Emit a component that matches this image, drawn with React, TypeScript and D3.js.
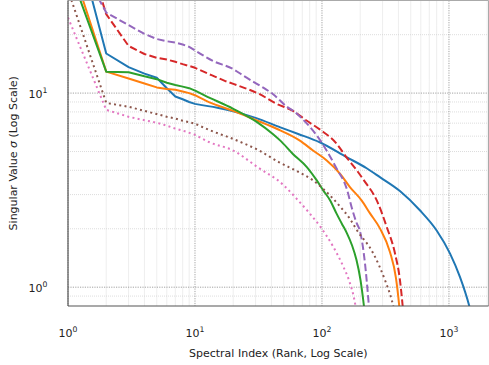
import * as d3 from 'd3';

// singular value spectra, [rank, sigma]
const blueSpectrum: [number, number][] = [
  [1, 90], [2, 16], [3, 13.6], [4, 12.6], [5, 12], [6, 10.6], [7, 9.6], [8, 9.3], [9, 9.0], [10, 8.8],
  [15, 8.4], [20, 8.05], [30, 7.45], [47, 6.66], [65, 6.16], [96, 5.58], [156, 4.68], [225, 4.1],
  [286, 3.69], [411, 3.13], [590, 2.49], [800, 1.96], [1020, 1.49], [1220, 1.13], [1445, 0.8], [1520, 0.7],
];
const orangeSpectrum: [number, number][] = [
  [1, 52], [2, 12.9], [3, 11.9], [4, 11.2], [5, 10.7], [6, 10.5], [7, 10.4], [8, 10.2], [9, 10.0], [10, 9.75],
  [13, 8.95], [20, 8.1], [30, 7.27], [44, 6.55], [67, 5.69], [85, 5.06], [109, 4.5], [139, 3.84],
  [166, 3.28], [205, 2.8], [239, 2.4], [286, 2.01], [343, 1.52], [382, 1.12], [406, 0.8], [414, 0.7],
];
const greenSpectrum: [number, number][] = [
  [1, 45], [2, 12.9], [3, 12.8], [4, 12.2], [5, 11.8], [6, 11.3], [7, 11.0], [8, 10.8], [9, 10.6], [10, 10.3],
  [12, 9.7], [20, 8.3], [31, 7.07], [41, 6.16], [47, 5.69], [59, 4.86], [76, 4.16], [91, 3.55], [102, 3.16],
  [116, 2.8], [130, 2.4], [143, 2.13], [157, 1.9], [172, 1.65], [187, 1.38], [201, 1.09], [214, 0.8], [220, 0.68],
];
const redSpectrum: [number, number][] = [
  [1, 110], [2, 25.5], [3, 17.5], [4, 15.9], [5, 15.2], [6, 14.9], [7, 14.5], [8, 14.1], [9, 13.8], [10, 13.5],
  [13, 12.5], [17, 11.6], [23, 10.8], [32, 9.9], [44, 8.8], [59, 8.1], [76, 7.2], [96, 6.5], [130, 5.5],
  [156, 4.67], [188, 4.0], [214, 3.55], [270, 2.8], [323, 2.05], [376, 1.49], [411, 1.09], [432, 0.8], [440, 0.7],
];
const purpleSpectrum: [number, number][] = [
  [1, 60], [2, 26], [3, 22.4], [4, 20.2], [5, 19.0], [6, 18.5], [7, 18.2], [8, 17.8], [9, 17.3], [10, 16.6],
  [14, 14.6], [20, 13.3], [24, 12.3], [35, 10.6], [41, 9.9], [53, 8.5], [61, 8.0], [71, 7.3], [91, 6.05],
  [109, 5.05], [130, 4.1], [158, 3.16], [171, 2.59], [188, 2.13], [199, 1.95], [218, 1.33], [232, 0.86], [236, 0.75],
];
const brownSpectrum: [number, number][] = [
  [1, 34], [2, 8.9], [3, 8.5], [4, 8.1], [5, 7.8], [6, 7.55], [7, 7.4], [8, 7.2], [10, 6.96],
  [13, 6.45], [20, 5.8], [32, 5.06], [46, 4.4], [64, 3.95], [85, 3.55], [105, 3.16], [139, 2.6],
  [166, 2.25], [188, 1.97], [254, 1.49], [313, 1.09], [354, 0.86], [364, 0.8], [372, 0.74],
];
const pinkSpectrum: [number, number][] = [
  [1, 24.5], [2, 8.2], [3, 7.55], [4, 7.25], [5, 7.04], [6, 6.8], [7, 6.56], [8, 6.41], [10, 6.1],
  [13, 5.58], [20, 5.06], [31, 4.16], [50, 3.35], [63, 2.86], [80, 2.4], [97, 2.05], [123, 1.61], [147, 1.28],
  [166, 1.05], [180, 0.86], [185, 0.78],
];

const xTickExps = [0, 1, 2, 3];
const yTickExps = [0, 1];

const series = [
  { data: blueSpectrum, color: '#1f77b4', dash: undefined },
  { data: orangeSpectrum, color: '#ff7f0e', dash: undefined },
  { data: greenSpectrum, color: '#2ca02c', dash: undefined },
  { data: redSpectrum, color: '#d62728', dash: '7.4,3.2' },
  { data: purpleSpectrum, color: '#9467bd', dash: '7.4,3.2' },
  { data: brownSpectrum, color: '#8c564b', dash: '2,3.3' },
  { data: pinkSpectrum, color: '#e377c2', dash: '2,3.3' },
];

export default function App() {
  const width = 489;
  const height = 365;
  const left = 68, right = 488.5, top = 0.5, bottom = 306;

  const x = d3.scaleLog().domain([1, 2048]).range([left, right]);
  const y = d3.scaleLog().domain([0.8, 30]).range([bottom, top]);
  // head (integer ranks) is straight segments, tail is smooth
  const headLine = d3.line<[number, number]>().x(d => x(d[0])).y(d => y(d[1]));
  const tailLine = d3.line<[number, number]>().x(d => x(d[0])).y(d => y(d[1])).curve(d3.curveMonotoneX);

  const pathFor = (data: [number, number][]) => {
    const head = data.filter(d => d[0] <= 10);
    const tail = data.filter(d => d[0] >= 10);
    return (headLine(head) ?? '') + (tailLine(tail) ?? '').replace(/^M[^A-Za-z]*/, '');
  };

  // minor grid positions
  const xMinor: number[] = [];
  [1, 10, 100, 1000].forEach(d => {
    for (let k = 2; k <= 9; k++) if (d * k <= 2048) xMinor.push(d * k);
  });
  const yMinor = [0.9, 2, 3, 4, 5, 6, 7, 8, 9, 20, 30];

  const font = "'DejaVu Sans', sans-serif";

  return (
    <svg width={width} height={height} style={{ position: 'absolute', left: 0, top: 0, background: '#fff' }}
      fontFamily={font}>
      <defs>
        <clipPath id="plot-clip">
          <rect x={left} y={top} width={right - left} height={bottom - top} />
        </clipPath>
      </defs>

      {/* grid */}
      <g>
        {xMinor.map(v => (
          <line key={'xm' + v} x1={x(v)} x2={x(v)} y1={top} y2={bottom}
            stroke="#cfcfcf" strokeWidth={0.7} strokeDasharray="1,1" />
        ))}
        {yMinor.map(v => (
          <line key={'ym' + v} x1={left} x2={right} y1={y(v)} y2={y(v)}
            stroke="#cfcfcf" strokeWidth={0.7} strokeDasharray="1,1" />
        ))}
        {xTickExps.map(e => (
          <line key={'xM' + e} x1={x(10 ** e)} x2={x(10 ** e)} y1={top} y2={bottom}
            stroke="#999" strokeWidth={0.9} strokeDasharray="1.2,1.2" />
        ))}
        {yTickExps.map(e => (
          <line key={'yM' + e} x1={left} x2={right} y1={y(10 ** e)} y2={y(10 ** e)}
            stroke="#999" strokeWidth={0.9} strokeDasharray="1.2,1.2" />
        ))}
      </g>

      {/* spectra */}
      <g clipPath="url(#plot-clip)">
        {series.map((s, i) => (
          <path key={i} d={pathFor(s.data)} fill="none" stroke={s.color} strokeWidth={2}
            strokeDasharray={s.dash} strokeLinejoin="round" />
        ))}
      </g>

      {/* spines */}
      <line x1={left} x2={right} y1={top} y2={top} stroke="#aaa" strokeWidth={1} />
      <line x1={right} x2={right} y1={top} y2={bottom} stroke="#aaa" strokeWidth={1} />
      <line x1={left} x2={left} y1={top} y2={bottom} stroke="#555" strokeWidth={1.2} />
      <line x1={left} x2={right} y1={bottom} y2={bottom} stroke="#555" strokeWidth={1.2} />

      {/* tick labels */}
      {xTickExps.map(e => (
        <text key={'xt' + e} x={x(10 ** e)} y={337} textAnchor="middle" fontSize={11} fill="#222">
          10<tspan dy={-5} fontSize={7.7}>{e}</tspan>
        </text>
      ))}
      {yTickExps.map(e => (
        <text key={'yt' + e} x={47.5} y={y(10 ** e) + 5} textAnchor="end" fontSize={11} fill="#222">
          10<tspan dy={-5} fontSize={7.7}>{e}</tspan>
        </text>
      ))}

      {/* axis labels */}
      <text x={(left + right) / 2} y={357} textAnchor="middle" fontSize={11} fill="#222">
        Spectral Index (Rank, Log Scale)
      </text>
      <text transform={`translate(17,${(top + bottom) / 2}) rotate(-90)`} textAnchor="middle" fontSize={11} fill="#222">
        Singular Value <tspan fontStyle="italic">σ</tspan> (Log Scale)
      </text>
    </svg>
  );
}
